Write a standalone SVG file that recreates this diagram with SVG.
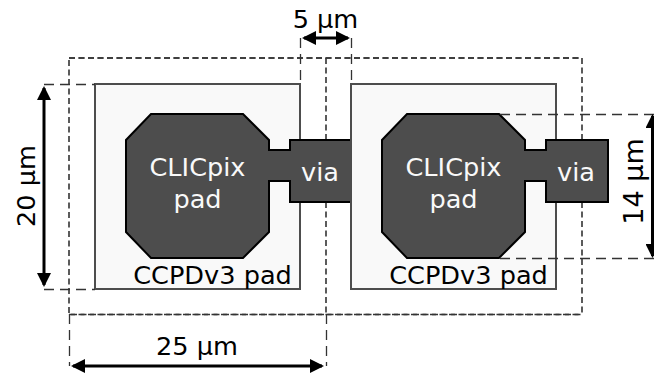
<svg xmlns="http://www.w3.org/2000/svg" width="654" height="374" viewBox="0 0 654 374">
<style>
text{font-family:"DejaVu Sans",sans-serif;font-size:25.6px;text-anchor:middle}
.pad{fill:#f9f9f9;stroke:#4d4d4d;stroke-width:2}
.oct{fill:#4d4d4d;stroke:#000;stroke-width:2}
.in{fill:#f9f9f9}
.box{fill:none;stroke:#333;stroke-width:1.6;stroke-dasharray:6 3.500}
.dim{fill:none;stroke:#333;stroke-width:1.300;stroke-dasharray:10 6}
.arr{fill:none;stroke:#000;stroke-width:3;marker-start:url(#a);marker-end:url(#a)}
</style>
<defs>
<marker id="a" viewBox="0 0 14 14" refX="12" refY="7" markerUnits="userSpaceOnUse" markerWidth="14" markerHeight="14" orient="auto-start-reverse"><path d="M0 0L14 7L0 14Z" fill="#000"/></marker>
<path id="shape" d="M151 114H243L269 140V150H290V140H352V202H290V181H269V232L243 258H151L126 232V140Z"/>
</defs>
<g id="box-outline">
<path class="box" d="M69 58H582V140M582 202V314.500H69V58"/>
<path class="box" d="M326 58V140M326 202V314"/>
</g>
<g id="pad-left">
<rect class="pad" x="95" y="84" width="205" height="205"/>
<use href="#shape" class="oct"/>
<text class="in" x="197.500" y="176">CLICpix</text>
<text class="in" x="197.500" y="208">pad</text>
<text class="in" x="320" y="181">via</text>
<text x="212.500" y="284">CCPDv3 pad</text>
</g>
<g id="pad-right">
<rect class="pad" x="351" y="84" width="205" height="205"/>
<use href="#shape" x="256" class="oct"/>
<text class="in" x="453.500" y="176">CLICpix</text>
<text class="in" x="453.500" y="208">pad</text>
<text class="in" x="576" y="181">via</text>
<text x="468.500" y="284">CCPDv3 pad</text>
</g>
<g id="connectors">
<path class="box" d="M69 58H582M69 314.500H582"/>
<path class="dim" d="M300.500 38V84M351.500 38V84M44 84.500H95M44 289.500H95M69.500 314V366M326.500 314V366M500 114.500H654M500 258.500H654"/>
<path class="arr" d="M304 38H348"/>
<path class="arr" d="M44 88V285"/>
<path class="arr" d="M73 366H322"/>
<path class="arr" d="M652.500 116V256"/>
</g>
<g id="labels">
<text x="325.500" y="28">5 µm</text>
<text x="197" y="355">25 µm</text>
<text transform="translate(35 186) rotate(-90)">20 µm</text>
<text transform="translate(643 181.500) rotate(-90)" style="font-size:27px">14 µm</text>
</g>
</svg>
